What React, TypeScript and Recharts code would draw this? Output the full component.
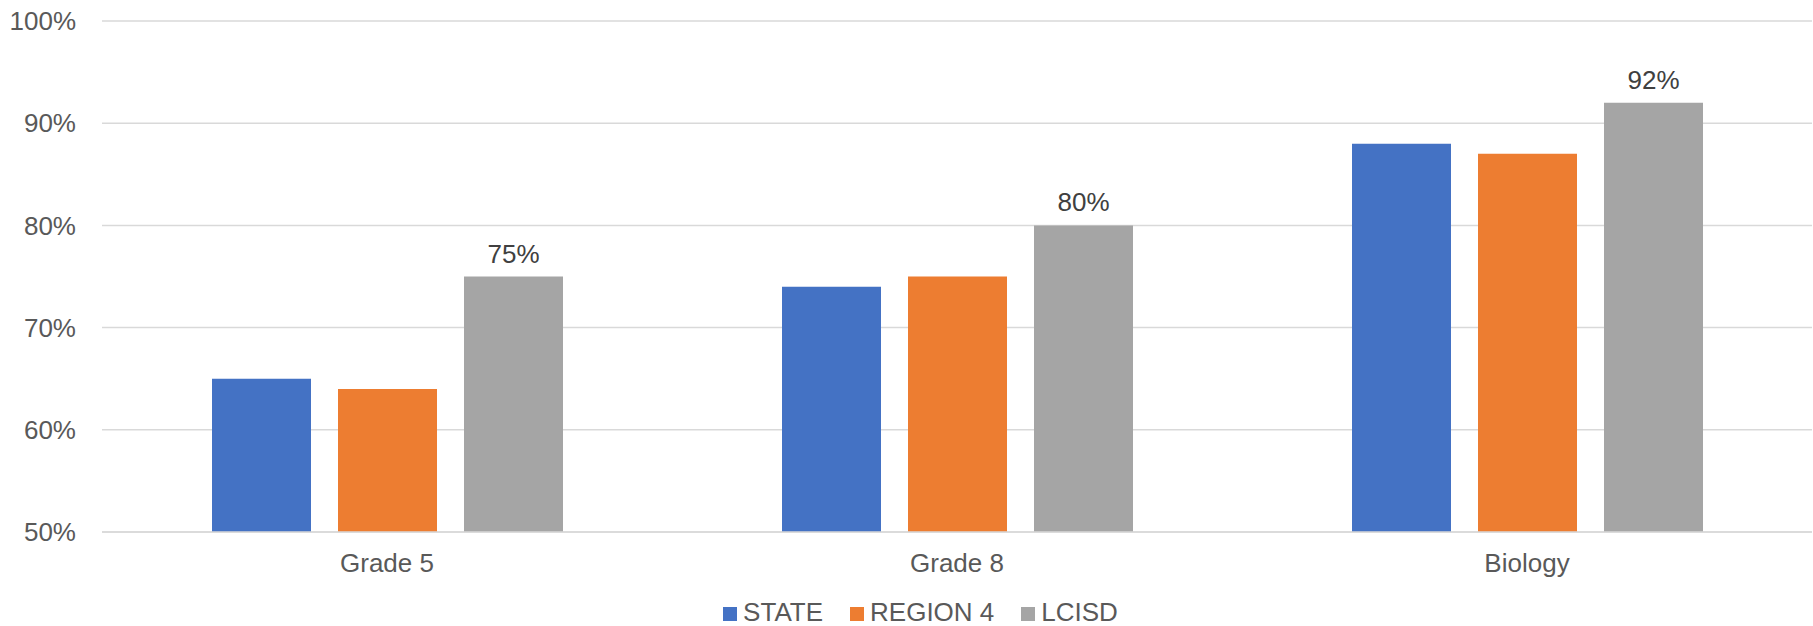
import React from "react";
import {
  BarChart,
  Bar,
  XAxis,
  YAxis,
  CartesianGrid,
  Legend,
  LabelList,
} from "recharts";

const categories = ["Grade 5", "Grade 8", "Biology"];
const stateValues = [65, 74, 88];
const region4Values = [64, 75, 87];
const lcisdValues = [75, 80, 92];
const yTicks = [50, 60, 70, 80, 90, 100];

const SERIES = [
  { key: "state", name: "STATE", color: "#4472C4" },
  { key: "region4", name: "REGION 4", color: "#ED7D31" },
  { key: "lcisd", name: "LCISD", color: "#A5A5A5" },
];

const FONT = "'Liberation Sans', Arial, sans-serif";

const data = categories.map((name, i) => ({
  name,
  state: stateValues[i],
  region4: region4Values[i],
  lcisd: lcisdValues[i],
}));

function LegendContent() {
  return (
    <div
      style={{
        display: "flex",
        justifyContent: "center",
        alignItems: "center",
        height: 28,
        paddingLeft: 29,
        fontFamily: FONT,
        fontSize: 26,
        color: "#595959",
      }}
    >
      {SERIES.map((s, i) => (
        <div
          key={s.key}
          style={{
            display: "flex",
            alignItems: "center",
            marginLeft: i === 0 ? 0 : 27,
          }}
        >
          <span
            style={{
              display: "inline-block",
              width: 14,
              height: 14,
              background: s.color,
              marginRight: 6,
              marginTop: 3,
            }}
          />
          <span style={{ lineHeight: "28px" }}>{s.name}</span>
        </div>
      ))}
    </div>
  );
}

export default function App() {
  return (
    <div
      style={{
        position: "absolute",
        top: 0,
        left: 0,
        width: 1813,
        height: 626,
        background: "#fff",
      }}
    >
      <BarChart
        width={1813}
        height={626}
        data={data}
        margin={{ top: 21, right: 1, bottom: 0, left: 0 }}
        barSize={99}
        barGap={27}
      >
        <CartesianGrid vertical={false} stroke="#D9D9D9" strokeWidth={1.5} />
        <XAxis
          dataKey="name"
          height={66}
          axisLine={{ stroke: "#D9D9D9", strokeWidth: 1.5 }}
          tickLine={false}
          tickSize={0}
          tickMargin={22}
          tick={{ fill: "#595959", fontSize: 26, fontFamily: FONT }}
        />
        <YAxis
          width={102}
          domain={[50, 100]}
          ticks={yTicks}
          axisLine={false}
          tickLine={false}
          tickSize={0}
          tickMargin={26}
          tickFormatter={(v: number) => `${v}%`}
          tick={{ fill: "#595959", fontSize: 26, fontFamily: FONT }}
        />
        <Legend verticalAlign="bottom" height={28} content={<LegendContent />} />
        {SERIES.map((s) => (
          <Bar
            key={s.key}
            dataKey={s.key}
            name={s.name}
            fill={s.color}
            isAnimationActive={false}
          >
            {s.key === "lcisd" && (
              <LabelList
                dataKey="lcisd"
                position="top"
                offset={14}
                formatter={(v: number) => `${v}%`}
                fill="#404040"
                fontSize={26}
                fontFamily={FONT}
              />
            )}
          </Bar>
        ))}
      </BarChart>
    </div>
  );
}
